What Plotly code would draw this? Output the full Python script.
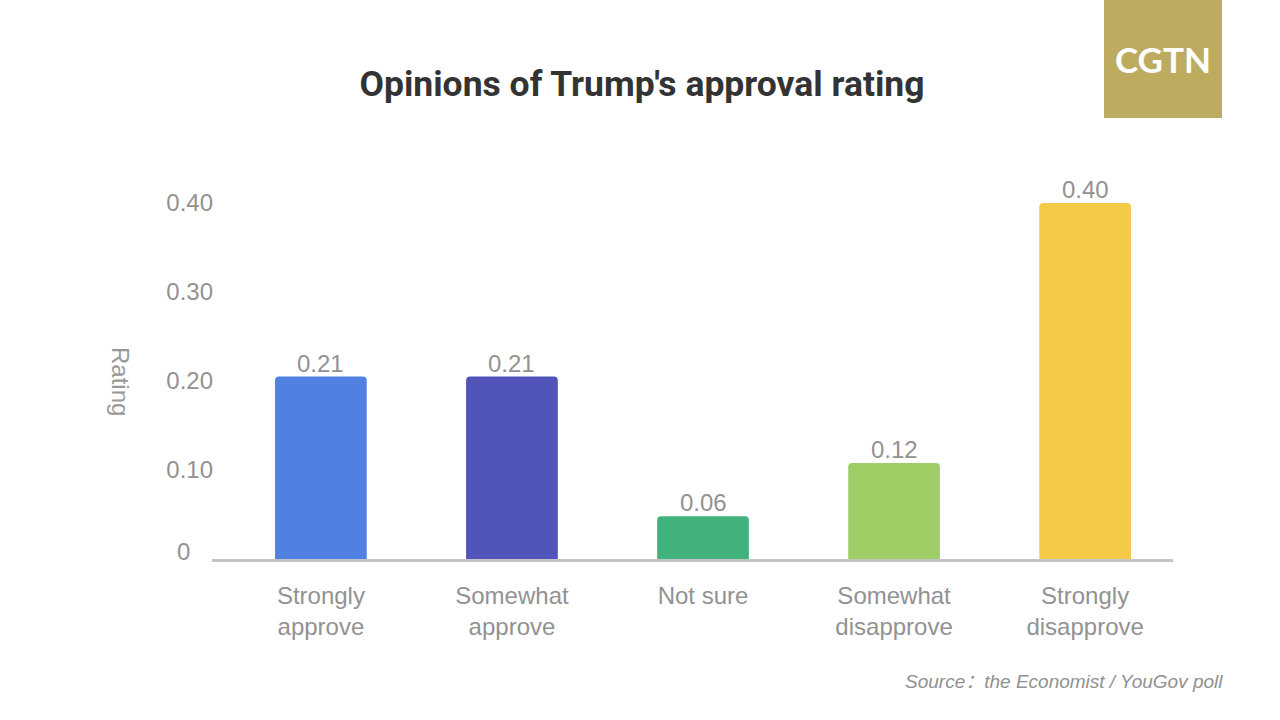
import plotly.graph_objects as go

categories = ["Strongly<br>approve", "Somewhat<br>approve", "Not sure", "Somewhat<br>disapprove", "Strongly<br>disapprove"]
# bar heights as drawn in the picture, the printed labels are rounded differently
bar_heights = [0.205, 0.205, 0.048, 0.108, 0.40]
bar_labels = ["0.21", "0.21", "0.06", "0.12", "0.40"]
bar_colors = ["#5080E2", "#5155B9", "#41B27C", "#9FCE67", "#F4CA49"]
y_ticks = [0.1, 0.2, 0.3, 0.4]
y_tick_labels = ["0.10", "0.20", "0.30", "0.40"]

gray = "#929292"
font_name = "Liberation Sans"

fig = go.Figure(
    go.Bar(
        x=categories,
        y=bar_heights,
        marker=dict(color=bar_colors, cornerradius=4, line=dict(width=0)),
        width=0.48,
    )
)

fig.update_layout(
    width=1280,
    height=720,
    autosize=False,
    margin=dict(l=212, r=107, t=150, b=161),
    paper_bgcolor="white",
    plot_bgcolor="white",
    showlegend=False,
    title=dict(
        text="<b>Opinions of Trump's approval rating</b>",
        x=642 / 1280,
        xanchor="center",
        y=1 - 84 / 720,
        yanchor="middle",
        font=dict(family="Roboto", size=35.5, color="#333333"),
    ),
)

fig.update_xaxes(
    range=[-0.57, 4.46],
    showgrid=False,
    showline=True,
    linecolor="#C4C4C4",
    linewidth=3,
    ticks="",
    tickangle=0,
    tickfont=dict(size=24, color=gray, family=font_name),
    ticklabelstandoff=13,
)
fig.update_yaxes(
    range=[0, 0.4596],
    tickvals=y_ticks,
    ticktext=y_tick_labels,
    showgrid=False,
    zeroline=False,
    ticks="",
    tickfont=dict(size=24, color=gray, family=font_name),
    ticklabelstandoff=-2,
)

# value labels sit tighter on the bars than textposition outside allows
for cat, h, lab in zip(categories, bar_heights, bar_labels):
    fig.add_annotation(
        x=cat, y=h, yanchor="bottom", xanchor="center", yshift=-2, text=lab, showarrow=False,
        font=dict(size=24, color=gray, family=font_name),
    )

# zero label sits higher and further left than the others
fig.add_annotation(
    xref="paper", yref="y", x=-29 / 961, y=0, yshift=8, xanchor="center", text="0", showarrow=False,
    font=dict(size=24, color=gray, family=font_name),
)
fig.add_annotation(
    xref="paper", yref="paper", x=-91 / 961, y=(559 - 381) / 409, xanchor="center", yanchor="middle",
    text="Rating", textangle=90, showarrow=False,
    font=dict(size=24, color="#999999", family=font_name),
)
fig.add_annotation(
    xref="paper", yref="paper", x=1013 / 961, xanchor="right", y=(559 - 681) / 409, yanchor="middle",
    text="<i>Source：the Economist / YouGov poll</i>", showarrow=False,
    font=dict(size=19, color="#909090", family=font_name + ", Noto Sans CJK SC"),
)

# CGTN logo block
fig.add_shape(
    type="rect", xref="paper", yref="paper",
    x0=(1104 - 212) / 961, x1=(1222 - 212) / 961, y0=(559 - 118) / 409, y1=559 / 409,
    fillcolor="#BDAC60", line=dict(width=0),
)
fig.add_annotation(
    xref="paper", yref="paper", x=(1163 - 212) / 961, y=(559 - 59) / 409,
    xanchor="center", yanchor="middle", text="<b>CGTN</b>", showarrow=False,
    font=dict(size=35, color="white", family="Lato"),
)

fig.write_html("out.html", config={"displayModeBar": False}, post_script="document.body.style.margin='0';")
